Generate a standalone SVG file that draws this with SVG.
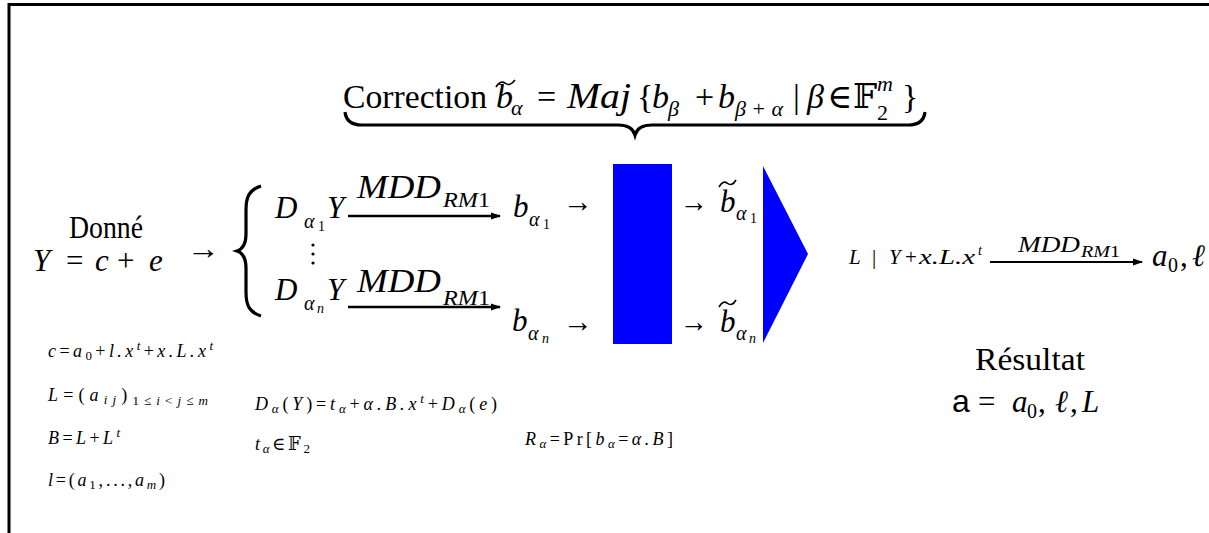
<svg xmlns="http://www.w3.org/2000/svg" width="1209" height="533" viewBox="0 0 1209 533">
<style>
text{font-family:"Liberation Serif","DejaVu Serif",serif;fill:#000}
.i{font-style:italic}
.t{font-size:34px}
.ts{font-size:22px}
.m{font-size:31px}
.s{font-size:20px}
.ss{font-size:14px}
.r{font-size:21px}
.sm{font-size:18px}
.line{stroke:#000;fill:none}
.acc{stroke:#000;fill:none;stroke-width:1.6}
.blue{fill:#0000ff}
</style>
<defs>
<marker id="ah" markerWidth="10" markerHeight="8" refX="9" refY="4" orient="auto" markerUnits="userSpaceOnUse"><path d="M0,0.5 L10,4 L0,7.5 z" fill="#000"/></marker>
</defs>
<rect x="0" y="0" width="1209" height="533" fill="#fff"/>
<path class="line" d="M9,533 V4.5 H1209" stroke-width="3"/>

<g id="correction">
<text class="t" x="343" y="108" textLength="144" lengthAdjust="spacingAndGlyphs">Correction</text>
<text class="t i" x="496" y="108">b</text>
<path class="acc" d="M496,87 Q500,80 505,83 Q510,87 515,80"/>
<text class="ts i" x="511" y="115">α</text>
<text class="t" x="537" y="108">=</text>
<text class="i" style="font-size:36px" x="567" y="108" textLength="64" lengthAdjust="spacingAndGlyphs">Maj</text>
<text class="t" x="637" y="108">{</text>
<text class="t i" x="652" y="108">b</text>
<text class="ts i" x="668" y="116">β</text>
<text class="t" x="695" y="108">+</text>
<text class="t i" x="718" y="108">b</text>
<text class="ts" x="735" y="116" textLength="48" lengthAdjust="spacing"><tspan class="i">β</tspan>+<tspan class="i">α</tspan></text>
<text class="t" x="793" y="108">|</text>
<text class="t i" x="807" y="108">β</text>
<text class="t" x="827" y="108">∈</text>
<text class="t" x="853" y="108">𝔽</text>
<text class="ts i" x="877" y="91">m</text>
<text class="ts" x="877" y="120">2</text>
<text class="t" x="902" y="108">}</text>
<path d="M345,112 C346,121 352,125 362,125 L618,125 C628,125 633,128 635,135 C637,128 642,125 652,125 L908,125 C918,125 924,121 925,112" stroke="#000" stroke-width="3.2" fill="none"/>
</g>

<g id="donne">
<text class="m" x="106" y="238" text-anchor="middle" textLength="74" lengthAdjust="spacingAndGlyphs">Donné</text>
<text class="m i" x="33" y="271">Y</text>
<text class="m" x="66" y="271">=</text>
<text class="m i" x="95" y="271">c</text>
<text class="m" x="117" y="271">+</text>
<text class="m i" x="149" y="271">e</text>
<text class="m" x="187" y="259" textLength="33" lengthAdjust="spacingAndGlyphs">→</text>
</g>

<g id="split">
<path d="M261,186 C249,190 246,197 246,210 L246,234 C246,243 243,249 237,251 C243,253 246,259 246,268 L246,292 C246,305 249,312 261,316" stroke="#000" stroke-width="3.2" fill="none"/>
<text class="m i" x="275" y="218">D</text>
<text class="s i" x="304" y="228">α</text>
<text class="ss" x="318" y="231">1</text>
<text class="m i" x="327" y="218">Y</text>
<circle cx="313" cy="245" r="1.6"/>
<circle cx="313" cy="254" r="1.6"/>
<circle cx="313" cy="263" r="1.6"/>
<text class="m i" x="275" y="300">D</text>
<text class="s i" x="304" y="310">α</text>
<text class="ss i" x="317" y="313">n</text>
<text class="m i" x="327" y="300">Y</text>
</g>

<g id="connectors">
<path class="line" d="M348,216 H500" stroke-width="2.6" marker-end="url(#ah)"/>
<path class="line" d="M348,307 H500" stroke-width="2.6" marker-end="url(#ah)"/>
<path class="line" d="M990,262 H1142" stroke-width="2" marker-end="url(#ah)"/>
</g>

<g id="mdd1">
<text class="i" style="font-size:33px" x="357" y="198" textLength="84" lengthAdjust="spacingAndGlyphs">MDD</text>
<text style="font-size:22px" x="443" y="207" textLength="47" lengthAdjust="spacingAndGlyphs"><tspan class="i">RM</tspan>1</text>
</g>
<g id="mdd2">
<text class="i" style="font-size:33px" x="357" y="292" textLength="84" lengthAdjust="spacingAndGlyphs">MDD</text>
<text style="font-size:22px" x="443" y="305" textLength="47" lengthAdjust="spacingAndGlyphs"><tspan class="i">RM</tspan>1</text>
</g>

<g id="b1">
<text class="m i" x="513" y="217">b</text>
<text class="s i" x="529" y="226">α</text>
<text class="ss" x="543" y="229">1</text>
<text class="m" x="563" y="212" textLength="30" lengthAdjust="spacingAndGlyphs">→</text>
</g>
<g id="bn">
<text class="m i" x="512" y="331">b</text>
<text class="s i" x="528" y="340">α</text>
<text class="ss i" x="542" y="343">n</text>
<text class="m" x="563" y="332" textLength="30" lengthAdjust="spacingAndGlyphs">→</text>
</g>

<g id="correcteur">
<rect class="blue" x="613" y="164" width="59" height="180"/>
</g>

<g id="bt1">
<text class="m" x="680" y="212" textLength="28" lengthAdjust="spacingAndGlyphs">→</text>
<text class="m i" x="720" y="212">b</text>
<path class="acc" d="M719,187 Q723,180 727,183 Q732,187 736,180"/>
<text class="s i" x="736" y="220">α</text>
<text class="ss" x="750" y="223">1</text>
</g>
<g id="btn">
<text class="m" x="680" y="332" textLength="28" lengthAdjust="spacingAndGlyphs">→</text>
<text class="m i" x="720" y="332">b</text>
<path class="acc" d="M719,307 Q723,300 727,303 Q732,307 736,300"/>
<text class="s i" x="736" y="340">α</text>
<text class="ss i" x="749" y="343">n</text>
</g>

<g id="decodeur">
<polygon class="blue" points="763,166 808,254 763,343"/>
</g>

<g id="second">
<text class="r i" x="849" y="264">L</text>
<text class="r" x="872" y="264">|</text>
<text class="r i" x="889" y="264">Y</text>
<text class="r" x="905" y="264">+</text>
<text class="r i" x="919" y="264" textLength="56" lengthAdjust="spacingAndGlyphs">x.L.x</text>
<text class="ss i" x="978" y="255">t</text>
<text class="i" style="font-size:23px" x="1018" y="252" textLength="62" lengthAdjust="spacingAndGlyphs">MDD</text>
<text style="font-size:16px" x="1081" y="257" textLength="39" lengthAdjust="spacingAndGlyphs"><tspan class="i">RM</tspan>1</text>
<text class="m i" x="1152" y="266">a</text>
<text class="s" x="1168" y="272">0</text>
<text class="m" x="1180" y="266">,</text>
<text class="m i" x="1192" y="266">ℓ</text>
</g>

<g id="notes">
<text class="sm" y="357" x="48" textLength="165" lengthAdjust="spacing"><tspan class="i">c</tspan>=<tspan class="i">a</tspan><tspan font-size="13" dy="3">0</tspan><tspan dy="-3">+</tspan><tspan class="i">l.x</tspan><tspan class="i" font-size="13" dy="-7">t</tspan><tspan dy="7">+</tspan><tspan class="i">x.L.x</tspan><tspan class="i" font-size="13" dy="-7">t</tspan></text>
<text class="sm" y="401" x="48" textLength="160" lengthAdjust="spacing"><tspan class="i">L</tspan>=(<tspan class="i">a</tspan><tspan class="i" font-size="13" dy="3">ij</tspan><tspan dy="-3">)</tspan><tspan font-size="13" dy="4">1≤</tspan><tspan class="i" font-size="13">i</tspan><tspan font-size="13">&lt;</tspan><tspan class="i" font-size="13">j</tspan><tspan font-size="13">≤</tspan><tspan class="i" font-size="13">m</tspan></text>
<text class="sm" y="444" x="48" textLength="72" lengthAdjust="spacing"><tspan class="i">B</tspan>=<tspan class="i">L</tspan>+<tspan class="i">L</tspan><tspan class="i" font-size="13" dy="-7">t</tspan></text>
<text class="sm" y="486" x="48" textLength="117" lengthAdjust="spacing"><tspan class="i">l</tspan>=(<tspan class="i">a</tspan><tspan font-size="13" dy="3">1</tspan><tspan dy="-3">,...,</tspan><tspan class="i">a</tspan><tspan class="i" font-size="13" dy="3">m</tspan><tspan dy="-3">)</tspan></text>
<text class="sm" y="410" x="255" textLength="242" lengthAdjust="spacing"><tspan class="i">D</tspan><tspan class="i" font-size="13" dy="3">α</tspan><tspan dy="-3">(</tspan><tspan class="i">Y</tspan>)=<tspan class="i">t</tspan><tspan class="i" font-size="13" dy="3">α</tspan><tspan dy="-3">+</tspan><tspan class="i">α.B.x</tspan><tspan class="i" font-size="13" dy="-7">t</tspan><tspan dy="7">+</tspan><tspan class="i">D</tspan><tspan class="i" font-size="13" dy="3">α</tspan><tspan dy="-3">(</tspan><tspan class="i">e</tspan>)</text>
<text class="sm" y="450" x="255" textLength="55" lengthAdjust="spacing"><tspan class="i">t</tspan><tspan class="i" font-size="13" dy="3">α</tspan><tspan dy="-3">∈𝔽</tspan><tspan font-size="13" dy="3">2</tspan></text>
<text class="sm" y="445" x="525" textLength="148" lengthAdjust="spacing"><tspan class="i">R</tspan><tspan class="i" font-size="13" dy="3">α</tspan><tspan dy="-3">=Pr[</tspan><tspan class="i">b</tspan><tspan class="i" font-size="13" dy="3">α</tspan><tspan dy="-3">=</tspan><tspan class="i">α.B</tspan>]</text>
</g>

<g id="resultat">
<text class="m" x="1030" y="370" text-anchor="middle" textLength="110" lengthAdjust="spacingAndGlyphs">Résultat</text>
<text style="font-size:32px;font-family:'Liberation Sans',sans-serif" x="952" y="412">a</text>
<text class="m" x="978" y="412">=</text>
<text class="m i" x="1012" y="412">a</text>
<text class="s" x="1027" y="418">0</text>
<text class="m" x="1038" y="412">,</text>
<text class="m i" x="1055" y="412">ℓ</text>
<text class="m" x="1070" y="412">,</text>
<text class="m i" x="1082" y="412">L</text>
</g>
</svg>
